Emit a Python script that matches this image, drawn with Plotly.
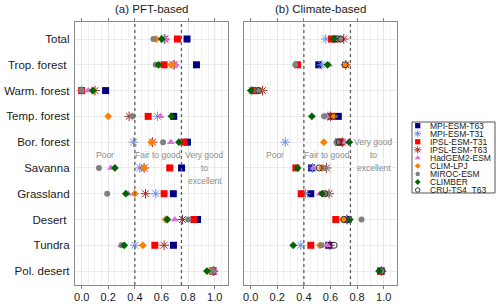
import plotly.graph_objects as go

W, H = 500, 306

categories = ["Total", "Trop. forest ", "Warm. forest", "Temp. forest", "Bor. forest",
              "Savanna", "Grassland", "Desert ", "Tundra", "Pol. desert"]

models = ["MPI-ESM-T63", "MPI-ESM-T31", "IPSL-ESM-T31", "IPSL-ESM-T63", "HadGEM2-ESM",
          "CLIM-LPJ", "MIROC-ESM", "CLIMBER", "CRU-TS4_T63"]

# (a) PFT-based
pft_mpi_t63 = [0.792, 0.863, 0.18, 0.692, 0.795, 0.751, 0.689, 0.871, 0.69, 0.985]
pft_mpi_t31 = [0.62, 0.687, 0.0, 0.57, 0.39, 0.437, 0.557, 0.758, 0.40, 0.99]
pft_ipsl_t31 = [0.72, 0.62, 0.0, 0.50, 0.77, 0.662, 0.62, 0.844, 0.55, 0.985]
pft_ipsl_t63 = [0.625, 0.696, 0.10, 0.357, 0.533, 0.47, 0.48, 0.758, 0.62, 0.99]
pft_hadgem = [0.63, 0.71, 0.05, 0.593, 0.671, 0.22, 0.351, 0.70, 0.297, 0.99]
pft_climlpj = [0.56, 0.672, 0.083, 0.20, 0.525, 0.47, 0.40, 0.631, 0.46, 0.968]
pft_miroc = [0.539, 0.557, 0.0, 0.383, 0.612, 0.13, 0.192, 0.801, 0.30, 0.987]
pft_climber = [0.602, 0.578, 0.085, 0.675, 0.731, 0.25, 0.332, 0.644, 0.32, 0.942]

# (b) Climate-based
clim_mpi_t63 = [0.64, 0.512, 0.037, 0.659, 0.66, 0.458, 0.452, 0.732, 0.587, 0.98]
clim_mpi_t31 = [0.565, 0.533, 0.01, 0.58, 0.26, 0.465, 0.413, 0.72, 0.377, 0.98]
clim_ipsl_t31 = [0.608, 0.353, 0.03, 0.608, 0.68, 0.34, 0.38, 0.64, 0.452, 0.978]
clim_ipsl_t63 = [0.70, 0.715, 0.089, 0.60, 0.69, 0.57, 0.59, 0.725, 0.595, 0.985]
clim_hadgem = [0.655, 0.59, 0.045, 0.57, 0.707, 0.475, 0.52, 0.715, 0.575, 0.98]
clim_climlpj = [0.66, 0.72, 0.07, 0.628, 0.55, 0.533, 0.56, 0.695, 0.52, 0.975]
clim_miroc = [0.665, 0.335, 0.057, 0.552, 0.645, 0.557, 0.58, 0.833, 0.533, 0.99]
clim_climber = [0.625, 0.578, 0.002, 0.46, 0.741, 0.353, 0.537, 0.745, 0.32, 0.965]
clim_cru = [0.677, 0.71, 0.06, 0.62, 0.665, 0.515, 0.557, 0.70, 0.627, 0.985]

pft_values = [pft_mpi_t63, pft_mpi_t31, pft_ipsl_t31, pft_ipsl_t63, pft_hadgem,
              pft_climlpj, pft_miroc, pft_climber, None]
clim_values = [clim_mpi_t63, clim_mpi_t31, clim_ipsl_t31, clim_ipsl_t63, clim_hadgem,
               clim_climlpj, clim_miroc, clim_climber, clim_cru]

x_ticks = [0.0, 0.2, 0.4, 0.6, 0.8, 1.0]
x_ticktext = ["0.0", "0.2", "0.4", "0.6", "0.8", "1.0"]
thresholds = [0.4, 0.75]

styles = [
    dict(symbol="square", color="#000080", size=7),
    dict(symbol="asterisk-open", color="#6A8FE6", size=8),
    dict(symbol="square", color="#FF0000", size=7),
    dict(symbol="asterisk-open", color="#A52A2A", size=8),
    dict(symbol="triangle-up", color="#DA70D6", size=7),
    dict(symbol="diamond", color="#FF8000", size=6),
    dict(symbol="circle", color="#808080", size=6),
    dict(symbol="diamond", color="#006400", size=6),
    dict(symbol="circle-open", color="#333333", size=6),
]

FONT = "Liberation Sans, Arial, sans-serif"


def marker(st, scale=1.0):
    m = dict(symbol=st["symbol"], size=st["size"] * scale, color=st["color"])
    if "open" in st["symbol"]:
        m["line"] = dict(color=st["color"], width=1)
    else:
        m["line"] = dict(width=0)
    return m


fig = go.Figure()
ypos = list(range(len(categories)))

for vals, xa, ya in [(pft_values, "x", "y"), (clim_values, "x2", "y2")]:
    for name, st, v in zip(models, styles, vals):
        if v is None:
            continue
        fig.add_trace(go.Scatter(x=v, y=ypos, mode="markers", name=name,
                                 marker=marker(st), xaxis=xa, yaxis=ya,
                                 showlegend=False, cliponaxis=False))

# manual compact legend on helper axes
leg_y = list(range(len(models)))
for i, (name, st) in enumerate(zip(models, styles)):
    fig.add_trace(go.Scatter(x=[0.069], y=[leg_y[i]], mode="markers",
                             marker=marker(st, 0.75), xaxis="x3", yaxis="y3",
                             showlegend=False, cliponaxis=False))

ydom = [(H - 285) / H, (H - 22) / H]
axis_common = dict(range=[-0.05, 1.1], tickvals=x_ticks, ticktext=x_ticktext,
                   ticks="outside", ticklen=3, tickcolor="#7f7f7f", mirror="ticks",
                   showline=True, linecolor="#8a8a8a", linewidth=1.3,
                   showgrid=True, gridcolor="#e6e6e6", gridwidth=1,
                   minor=dict(dtick=0.05, tick0=0, showgrid=True, gridcolor="#f0f0f0", gridwidth=1),
                   zeroline=False, automargin=False, ticklabelstandoff=-1,
                   tickfont=dict(family=FONT, size=11, color="#1a1a1a"))
yaxis_common = dict(range=[9.54, -0.66], tickvals=ypos, showline=True, mirror=True,
                    linecolor="#8a8a8a", linewidth=1.3, ticks="",
                    showgrid=True, gridcolor="#ebebeb", gridwidth=1, zeroline=False,
                    automargin=False, domain=ydom)

fig.update_layout(
    width=W, height=H,
    margin=dict(l=0, r=0, t=0, b=0, autoexpand=False),
    paper_bgcolor="white", plot_bgcolor="white",
    showlegend=False,
    xaxis=dict(domain=[75 / W, 228 / W], anchor="y", **axis_common),
    xaxis2=dict(domain=[244 / W, 397 / W], anchor="y2", **axis_common),
    yaxis=dict(anchor="x", ticktext=categories,
               tickfont=dict(family=FONT, size=11.5, color="#1a1a1a"),
               ticklabelstandoff=2, **yaxis_common),
    yaxis2=dict(anchor="x2", showticklabels=False, **yaxis_common),
    xaxis3=dict(domain=[412 / W, 495 / W], range=[0, 1], visible=False, anchor="y3",
                fixedrange=True, automargin=False),
    yaxis3=dict(domain=[(H - 193) / H, (H - 122) / H], range=[8.37, -0.46],
                visible=False, anchor="x3", fixedrange=True, automargin=False),
)

shapes = []
for xr, yr in [("x", "y domain"), ("x2", "y2 domain")]:
    for t in thresholds:
        shapes.append(dict(type="line", xref=xr, yref=yr, x0=t, x1=t, y0=0, y1=1,
                           line=dict(color="#606060", width=1.3, dash="dot"), layer="above"))
shapes.append(dict(type="rect", xref="x3 domain", yref="y3 domain", x0=0, x1=1, y0=0, y1=1,
                   line=dict(color="#555555", width=1), fillcolor="rgba(0,0,0,0)"))
fig.update_layout(shapes=shapes)

ann = []
ann.append(dict(text="(a) PFT-based", xref="paper", yref="paper", x=151.5 / W, y=1 - 8.5 / H,
                showarrow=False, xanchor="center", yanchor="middle",
                font=dict(family=FONT, size=11.5, color="#1a1a1a")))
ann.append(dict(text="(b) Climate-based", xref="paper", yref="paper", x=320.5 / W, y=1 - 8.5 / H,
                showarrow=False, xanchor="center", yanchor="middle",
                font=dict(family=FONT, size=11.5, color="#1a1a1a")))

gray = dict(family=FONT, size=8.5, color="#8c8c8c")
zone_left = [("Poor", 0.175, 4.5), ("Fair to good", 0.572, 4.5), ("Very good", 0.925, 4.5),
             ("to", 0.925, 5.0), ("excellent", 0.925, 5.5)]
zone_right = [("Poor", 0.18, 4.5), ("Fair to good", 0.572, 4.5), ("Very good", 0.92, 4.0),
              ("to", 0.925, 4.5), ("excellent", 0.925, 5.0)]
for xr, yr, zones in [("x", "y", zone_left), ("x2", "y2", zone_right)]:
    for txt, xv, yv in zones:
        ann.append(dict(text=txt, xref=xr, yref=yr, x=xv, y=yv, showarrow=False,
                        xanchor="center", yanchor="middle", font=gray,
                        bgcolor="rgba(255,255,255,0)"))

for i, name in enumerate(models):
    ann.append(dict(text=name, xref="x3", yref="y3", x=0.2, y=leg_y[i], showarrow=False,
                    xanchor="left", yanchor="middle", height=8, borderpad=0,
                    font=dict(family=FONT, size=8.5, color="#1a1a1a")))
fig.update_layout(annotations=ann)

fig.write_html("out.html", config={"displayModeBar": False},
               post_script="document.body.style.margin='0px';document.body.style.padding='0px';")
